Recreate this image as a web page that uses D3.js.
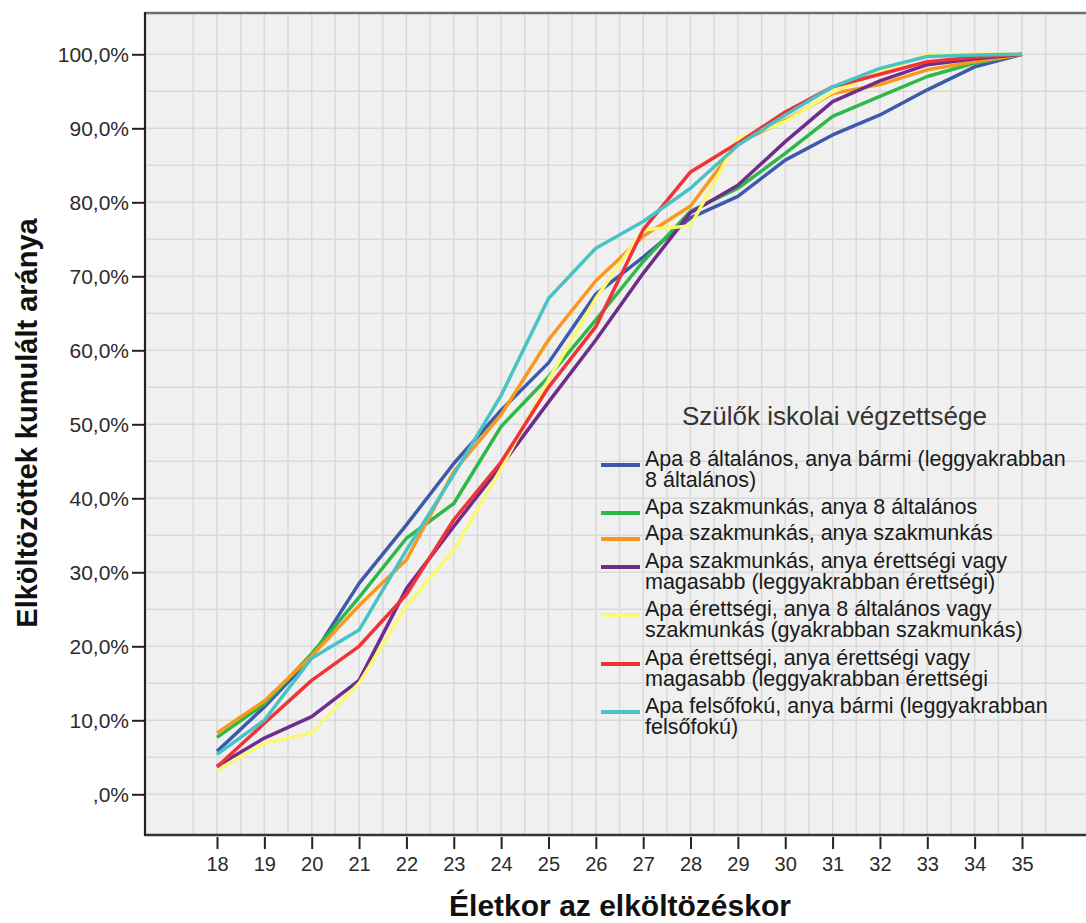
<!DOCTYPE html>
<html>
<head>
<meta charset="utf-8">
<script src="https://cdn.jsdelivr.net/npm/d3@7"></script>
<style>
html,body{margin:0;padding:0;background:#fff;overflow:hidden;}
svg{display:block;font-family:"Liberation Sans",Arial,sans-serif;}
</style>
</head>
<body>
<svg id="chart" width="1086" height="923"></svg>
<script>
const ages = [18,19,20,21,22,23,24,25,26,27,28,29,30,31,32,33,34,35];
const yTicks = [0,10,20,30,40,50,60,70,80,90,100];

const seriesNames = [
  ["Apa 8 általános, anya bármi (leggyakrabban", "8 általános)"],
  ["Apa szakmunkás, anya 8 általános"],
  ["Apa szakmunkás, anya szakmunkás"],
  ["Apa szakmunkás, anya érettségi vagy", "magasabb (leggyakrabban érettségi)"],
  ["Apa érettségi, anya 8 általános vagy", "szakmunkás (gyakrabban szakmunkás)"],
  ["Apa érettségi, anya érettségi vagy", "magasabb (leggyakrabban érettségi"],
  ["Apa felsőfokú, anya bármi (leggyakrabban", "felsőfokú)"]
];
const seriesColors = ["#3e58ac","#2eb848","#f8981d","#702c8a","#fbf873","#ef3338","#48c2c5"];

const apa8 =        [5.8,11.8,18.5,28.5,36.4,44.7,51.9,58.3,67.6,72.6,77.9,80.8,85.7,89.1,91.8,95.2,98.3,100];
const szakm8 =      [7.7,12.2,19.0,26.6,34.6,39.3,49.7,56.4,64.1,72.0,78.8,81.9,86.6,91.6,94.3,97.0,98.8,100];
const szakmSzakm =  [8.3,12.6,18.7,25.5,31.7,43.6,51.3,61.4,69.4,75.4,79.5,88.0,91.1,94.7,95.9,97.9,99.0,100];
const szakmErett =  [3.8,7.6,10.5,15.4,27.8,36.2,44.4,53.0,61.4,70.4,78.6,82.3,88.2,93.6,96.4,98.6,99.4,100];
const erett8 =      [3.2,6.9,8.3,15.0,25.5,33.0,44.0,56.0,67.0,76.3,76.8,88.6,90.9,94.9,97.6,100,100,100];
const erettErett =  [3.7,9.6,15.4,20.0,27.0,37.1,44.9,55.0,63.2,76.3,84.1,88.0,92.2,95.6,97.3,99.0,99.6,100];
const felso =       [5.4,10.0,18.4,22.2,33.0,43.2,53.9,67.0,73.8,77.4,81.9,87.7,91.8,95.6,98.1,99.7,99.9,100];
const seriesValues = [apa8, szakm8, szakmSzakm, szakmErett, erett8, erettErett, felso];

const svg = d3.select("#chart");
const plot = {left:145, top:13, right:1100, bottom:835};

const x = d3.scaleLinear().domain([18,35]).range([217,1022]);
const y = d3.scaleLinear().domain([0,100]).range([794.3,54.3]);

// plot background
svg.append("rect").attr("x",plot.left).attr("y",plot.top)
  .attr("width",plot.right-plot.left).attr("height",plot.bottom-plot.top)
  .attr("fill","#f0f0f0");

// grid
const vGrid = d3.range(17.5, 35.51, 0.5);
svg.append("g").selectAll("line").data(vGrid).join("line")
  .attr("x1",d=>x(d)).attr("x2",d=>x(d)).attr("y1",plot.top).attr("y2",plot.bottom)
  .attr("stroke","#d9d9d9").attr("stroke-width",1.5);
const hGrid = d3.range(0, 100.1, 5);
svg.append("g").selectAll("line").data(hGrid).join("line")
  .attr("x1",plot.left).attr("x2",plot.right).attr("y1",d=>y(d)).attr("y2",d=>y(d))
  .attr("stroke","#d9d9d9").attr("stroke-width",1.5);

// frame
svg.append("line").attr("x1",plot.left).attr("x2",plot.right).attr("y1",plot.top).attr("y2",plot.top)
  .attr("stroke","#6e6e6e").attr("stroke-width",2.5);
svg.append("line").attr("x1",plot.left).attr("x2",plot.right).attr("y1",plot.bottom).attr("y2",plot.bottom)
  .attr("stroke","#333").attr("stroke-width",2.5);
svg.append("line").attr("x1",plot.left).attr("x2",plot.left).attr("y1",plot.top-1).attr("y2",plot.bottom+1)
  .attr("stroke","#222").attr("stroke-width",2.2);

// y axis
const yAxis = d3.axisLeft(y).tickValues(yTicks).tickSize(13).tickPadding(3)
  .tickFormat(d => (d===0 ? "" : d3.format("d")(d)) + ",0%");
const gy = svg.append("g").attr("transform",`translate(${plot.left},0)`).call(yAxis);
gy.select(".domain").remove();
gy.selectAll(".tick line").attr("stroke","#222").attr("stroke-width",2);
gy.selectAll(".tick text").attr("font-size",21).attr("fill","#2b2b2b")
  .attr("font-family","Liberation Sans, Arial, sans-serif");

// x axis
const xAxis = d3.axisBottom(x).tickValues(ages).tickSize(12).tickPadding(8).tickFormat(d3.format("d"));
const gx = svg.append("g").attr("transform",`translate(0,${plot.bottom+2})`).call(xAxis);
gx.select(".domain").remove();
gx.selectAll(".tick line").attr("stroke","#222").attr("stroke-width",2);
gx.selectAll(".tick text").attr("font-size",20).attr("fill","#2b2b2b")
  .attr("font-family","Liberation Sans, Arial, sans-serif");

// axis titles
svg.append("text").attr("x",620).attr("y",916).attr("text-anchor","middle")
  .attr("font-size",30).attr("font-weight","bold").attr("fill","#111")
  .text("Életkor az elköltözéskor");
svg.append("text").attr("transform","translate(37,423) rotate(-90)").attr("text-anchor","middle")
  .attr("font-size",29).attr("font-weight","bold").attr("fill","#111")
  .text("Elköltözöttek kumulált aránya");

// lines
const line = d3.line().x((d,i)=>x(ages[i])).y(d=>y(d));
svg.append("g").selectAll("path").data(seriesValues).join("path")
  .attr("d",d=>line(d)).attr("fill","none")
  .attr("stroke",(d,i)=>seriesColors[i]).attr("stroke-width",3.5)
  .attr("stroke-linejoin","round");

// legend
const legend = svg.append("g");
legend.append("text").attr("x",682).attr("y",425).attr("font-size",26).attr("fill","#333")
  .text("Szülők iskolai végzettsége");
const itemTop = [458,506,532,560,608,657,705];
seriesNames.forEach((lines,i)=>{
  const cy = itemTop[i];
  legend.append("line").attr("x1",601).attr("x2",640).attr("y1",cy+7).attr("y2",cy+7)
    .attr("stroke",seriesColors[i]).attr("stroke-width",4);
  lines.forEach((t,j)=>{
    legend.append("text").attr("x",645).attr("y",cy+7.5+j*21).attr("font-size",21.5)
      .attr("fill","#1a1a1a").text(t);
  });
});
</script>
</body>
</html>
